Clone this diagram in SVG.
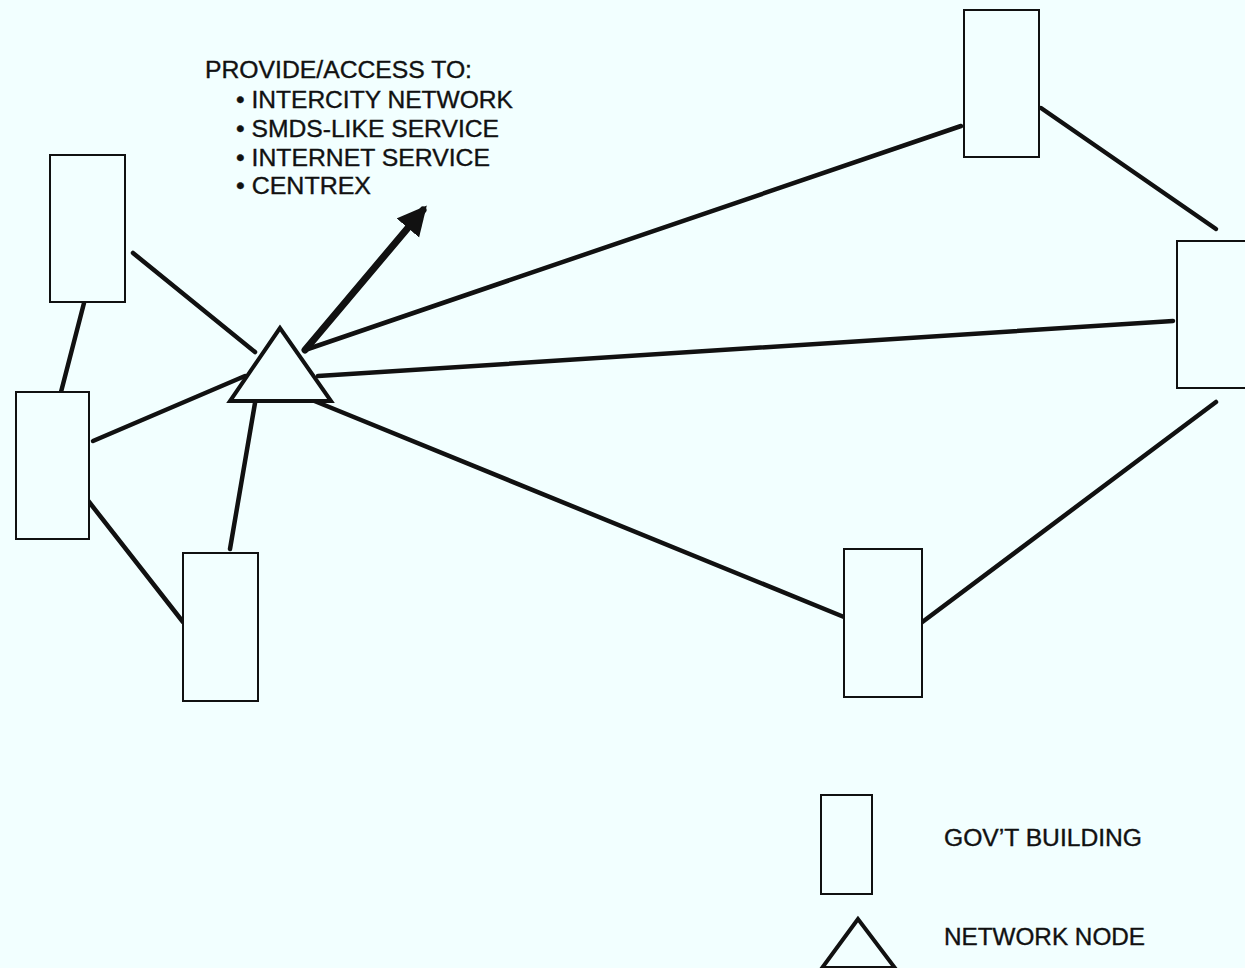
<svg xmlns="http://www.w3.org/2000/svg" width="1245" height="968" viewBox="0 0 1245 968">
  <defs>
    <style>
      .bldg { fill: #f2ffff; stroke: #111; stroke-width: 2; }
      .node { fill: #f2ffff; stroke: #111; stroke-width: 4; stroke-linejoin: miter; }
      .link { stroke: #111; stroke-width: 4.5; stroke-linecap: round; fill: none; }
      .lbl { font-family: "Liberation Sans", Arial, sans-serif; font-size: 23px; fill: #111; stroke: #111; stroke-width: 0.35; }
    </style>
    <marker id="head" viewBox="0 0 10 10" refX="8" refY="5" markerWidth="4.2" markerHeight="4.4" orient="auto" markerUnits="strokeWidth">
      <path d="M0,0 L10,5 L0,10 z" fill="#111"/>
    </marker>
  </defs>

  <rect width="1245" height="968" fill="#f2ffff"/>

  <!-- links between buildings and the node -->
  <g id="connectors">
    <line class="link" x1="133" y1="253" x2="255" y2="352"/>
    <line class="link" x1="84" y1="303" x2="61" y2="392"/>
    <line class="link" x1="93" y1="441" x2="245" y2="376"/>
    <line class="link" x1="86" y1="498" x2="183" y2="622"/>
    <line class="link" x1="255" y1="403" x2="230" y2="549"/>
    <line class="link" x1="305" y1="350" x2="961" y2="126"/>
    <line class="link" x1="318" y1="376" x2="1173" y2="321"/>
    <line class="link" x1="312" y1="400" x2="844" y2="617"/>
    <line class="link" x1="1041" y1="108" x2="1216" y2="229"/>
    <line class="link" x1="1216" y1="402" x2="921" y2="623"/>
    <!-- outbound access arrow -->
    <line x1="305" y1="350" x2="423" y2="210" stroke="#111" stroke-width="7" stroke-linecap="round" marker-end="url(#head)"/>
  </g>

  <g id="bldg-a"><rect class="bldg" x="50" y="155" width="75" height="147"/></g>
  <g id="bldg-b"><rect class="bldg" x="16" y="392" width="73" height="147"/></g>
  <g id="bldg-c"><rect class="bldg" x="183" y="553" width="75" height="148"/></g>
  <g id="bldg-d"><rect class="bldg" x="964" y="10" width="75" height="147"/></g>
  <g id="bldg-e"><rect class="bldg" x="1177" y="241" width="75" height="147"/></g>
  <g id="bldg-f"><rect class="bldg" x="844" y="549" width="78" height="148"/></g>

  <g id="network-node"><polygon class="node" points="280,328 230,401 331,401"/></g>

  <g id="services-label">
    <text class="lbl" x="205" y="78" textLength="267" lengthAdjust="spacingAndGlyphs">PROVIDE/ACCESS TO:</text>
    <text class="lbl" x="236" y="108" textLength="277" lengthAdjust="spacingAndGlyphs">• INTERCITY NETWORK</text>
    <text class="lbl" x="236" y="137" textLength="263" lengthAdjust="spacingAndGlyphs">• SMDS-LIKE SERVICE</text>
    <text class="lbl" x="236" y="166" textLength="254" lengthAdjust="spacingAndGlyphs">• INTERNET SERVICE</text>
    <text class="lbl" x="236" y="194" textLength="135" lengthAdjust="spacingAndGlyphs">• CENTREX</text>
  </g>

  <g id="legend">
    <rect class="bldg" x="821" y="795" width="51" height="99"/>
    <text class="lbl" x="944" y="846" textLength="198" lengthAdjust="spacingAndGlyphs">GOV’T BUILDING</text>
    <polygon class="node" points="858,919 822,968 895,968" stroke-width="3.5"/>
    <text class="lbl" x="944" y="945" textLength="201" lengthAdjust="spacingAndGlyphs">NETWORK NODE</text>
  </g>
</svg>
